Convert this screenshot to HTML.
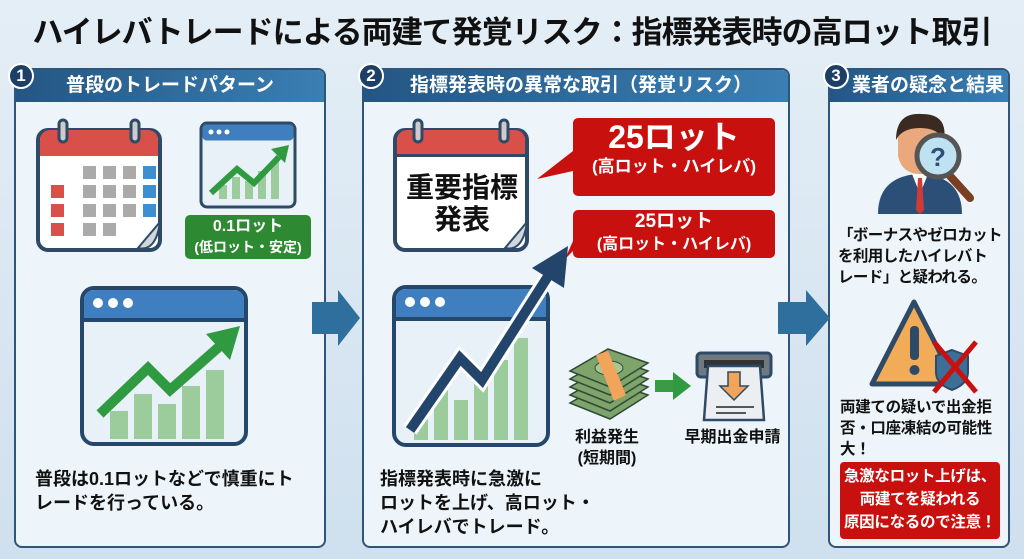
<!DOCTYPE html>
<html><head><meta charset="utf-8"><style>
*{margin:0;padding:0;box-sizing:border-box}
body{width:1024px;height:559px;overflow:hidden;position:relative;background:linear-gradient(180deg,#e4eef6,#cfe0ee);font-family:"Liberation Sans","Noto Sans CJK JP",sans-serif;font-weight:bold;color:#111}
.a{position:absolute}
.title{left:0;top:7px;width:1024px;text-align:center;font-size:31px;letter-spacing:-1px;color:#111}
.panel{border:2px solid #2e557a;border-radius:8px;background:#eef5fa;overflow:hidden}
.hd{position:absolute;left:0;top:0;right:0;height:32px;background:linear-gradient(90deg,#245683,#3a7fb3);color:#fff;font-size:19px;line-height:32px;text-align:center}
.num{width:26px;height:26px;border-radius:50%;background:#1d3f66;border:2px solid #fff;color:#fff;font-size:17px;text-align:center;line-height:22px}
.t{font-size:17px;line-height:22px}
.red{background:#c8100f;color:#fff;text-align:center;border-radius:4px}
</style></head><body>
<div class="a title">ハイレバトレードによる両建て発覚リスク：指標発表時の高ロット取引</div>

<div class="a panel" style="left:14px;top:68px;width:312px;height:480px"><div class="hd">普段のトレードパターン</div></div>
<div class="a panel" style="left:362px;top:68px;width:428px;height:480px"><div class="hd" style="padding-left:10px">指標発表時の異常な取引（発覚リスク）</div></div>
<div class="a panel" style="left:828px;top:68px;width:182px;height:480px"><div class="hd" style="padding-left:18px">業者の疑念と結果</div></div>
<div class="a num" style="left:8px;top:63px">1</div>
<div class="a num" style="left:358px;top:63px">2</div>
<div class="a num" style="left:823px;top:63px">3</div>

<svg class="a" style="left:310px;top:288px" width="52" height="62"><polygon points="2,14 28,14 28,2 50,30 28,58 28,46 2,46" fill="#2e6f9e"/></svg>
<svg class="a" style="left:776px;top:288px" width="56" height="62"><polygon points="2,14 30,14 30,2 54,30 30,58 30,46 2,46" fill="#2e6f9e"/></svg>

<svg class="a" style="left:35px;top:118px" width="130" height="136">
<rect x="3" y="12" width="122" height="120" rx="10" fill="#fff" stroke="#2e4a66" stroke-width="4"/>
<path d="M5,22 a10,10 0 0 1 10,-10 h98 a10,10 0 0 1 10,10 v16 h-118z" fill="#d9504a"/>
<rect x="24" y="2" width="8" height="22" rx="4" fill="#ccc" stroke="#2e4a66" stroke-width="3"/>
<rect x="96" y="2" width="8" height="22" rx="4" fill="#ccc" stroke="#2e4a66" stroke-width="3"/>
<g fill="#aaa"><rect x="48" y="48" width="13" height="13"/><rect x="68" y="48" width="13" height="13"/><rect x="88" y="48" width="13" height="13"/>
<rect x="48" y="67" width="13" height="13"/><rect x="68" y="67" width="13" height="13"/><rect x="88" y="67" width="13" height="13"/>
<rect x="48" y="86" width="13" height="13"/><rect x="68" y="86" width="13" height="13"/><rect x="88" y="86" width="13" height="13"/>
<rect x="48" y="105" width="13" height="13"/><rect x="68" y="105" width="13" height="13"/></g>
<g fill="#d9504a"><rect x="16" y="67" width="13" height="13"/><rect x="16" y="86" width="13" height="13"/><rect x="16" y="105" width="13" height="13"/></g>
<g fill="#3d8fcf"><rect x="108" y="48" width="13" height="13"/><rect x="108" y="67" width="13" height="13"/><rect x="108" y="86" width="13" height="13"/></g>
<path d="M125,104 l-22,26 q18,4 22,-26z" fill="#cfd6dc" stroke="#2e4a66" stroke-width="2"/>
</svg>
<svg class="a" style="left:199px;top:121px" width="98" height="88">
<rect x="2" y="2" width="94" height="84" rx="6" fill="#e8f1f8" stroke="#2e4a66" stroke-width="3"/>
<rect x="3.5" y="3.5" width="91" height="16" rx="4" fill="#3f7fc0"/>
<g fill="#fff"><circle cx="12" cy="11" r="2.5"/><circle cx="20" cy="11" r="2.5"/><circle cx="28" cy="11" r="2.5"/></g>
<g fill="#9ccb9c"><rect x="20" y="64" width="8" height="14"/><rect x="33" y="56" width="8" height="22"/><rect x="46" y="60" width="8" height="18"/><rect x="59" y="50" width="8" height="28"/><rect x="72" y="40" width="8" height="38"/></g>
<polyline points="12,72 38,48 55,62 80,36" fill="none" stroke="#2f9a3f" stroke-width="6"/>
<polygon points="72,28 90,24 86,42" fill="#2f9a3f"/>
</svg>
<div class="a" style="left:185px;top:215px;width:126px;height:44px;background:#2e8a32;border-radius:5px;color:#fff;text-align:center;font-size:16px;line-height:20px;padding-top:2px">0.1ロット<br><span style="font-size:14px">(低ロット・安定)</span></div>
<svg class="a" style="left:80px;top:286px" width="168" height="160">
<rect x="2" y="2" width="164" height="156" rx="12" fill="#e8f1f8" stroke="#24476b" stroke-width="4"/>
<path d="M4,14 a10,10 0 0 1 10,-10 h140 a10,10 0 0 1 10,10 v18 h-160z" fill="#3f7fc0"/>
<rect x="4" y="32" width="160" height="4" fill="#24476b"/>
<g fill="#fff"><circle cx="18" cy="17" r="5"/><circle cx="33" cy="17" r="5"/><circle cx="48" cy="17" r="5"/></g>
<g fill="#9ccb9c"><rect x="30" y="125" width="18" height="28"/><rect x="54" y="108" width="18" height="45"/><rect x="78" y="118" width="18" height="35"/><rect x="102" y="100" width="18" height="53"/><rect x="126" y="84" width="18" height="69"/></g>
<polyline points="20,128 68,82 90,104 140,60" fill="none" stroke="#2f9a3f" stroke-width="10"/>
<polygon points="126,48 160,40 150,74" fill="#2f9a3f"/>
</svg>
<div class="a t" style="left:35px;top:467px;font-size:18px;line-height:24px">普段は0.1ロットなどで慎重にト<br>レードを行っている。</div>

<svg class="a" style="left:392px;top:118px" width="140" height="136">
<rect x="3" y="12" width="132" height="120" rx="10" fill="#fff" stroke="#2e4a66" stroke-width="4"/>
<path d="M5,22 a10,10 0 0 1 10,-10 h108 a10,10 0 0 1 10,10 v16 h-128z" fill="#d9504a"/>
<rect x="4" y="36" width="130" height="3" fill="#2e4a66"/>
<rect x="22" y="2" width="8" height="22" rx="4" fill="#ccc" stroke="#2e4a66" stroke-width="3"/>
<rect x="108" y="2" width="8" height="22" rx="4" fill="#ccc" stroke="#2e4a66" stroke-width="3"/>
<path d="M135,104 l-22,26 q18,4 22,-26z" fill="#cfd6dc" stroke="#2e4a66" stroke-width="2"/>
</svg>
<div class="a" style="left:396px;top:172px;width:132px;text-align:center;font-size:28px;line-height:32px">重要指標<br>発表</div>
<svg class="a" style="left:535px;top:115px" width="245" height="150">
<path d="M38,8 a5,5 0 0 1 5,-5 h192 a5,5 0 0 1 5,5 v68 a5,5 0 0 1 -5,5 h-192 a5,5 0 0 1 -5,-5 v-20 l-36,8 36,-28z" fill="#c8100f"/>
<path d="M38,100 a5,5 0 0 1 5,-5 h192 a5,5 0 0 1 5,5 v38 a5,5 0 0 1 -5,5 h-192 a5,5 0 0 1 -5,-5 v-2 l-8,8 8,-18z" fill="#c8100f"/>
</svg>
<div class="a" style="left:573px;top:119px;width:202px;text-align:center;color:#fff;font-size:32px;line-height:36px">25ロット</div>
<div class="a" style="left:573px;top:157px;width:202px;text-align:center;color:#fff;font-size:17px;line-height:20px">(高ロット・ハイレバ)</div>
<div class="a" style="left:573px;top:211px;width:202px;text-align:center;color:#fff;font-size:19px;line-height:22px">25ロット<br><span style="font-size:16px">(高ロット・ハイレバ)</span></div>
<svg class="a" style="left:392px;top:240px" width="185" height="210">
<rect x="2" y="47" width="154" height="158" rx="12" fill="#e8f1f8" stroke="#24476b" stroke-width="4"/>
<path d="M4,59 a10,10 0 0 1 10,-10 h130 a10,10 0 0 1 10,10 v18 h-150z" fill="#3f7fc0"/>
<rect x="4" y="77" width="150" height="4" fill="#24476b"/>
<g fill="#fff"><circle cx="18" cy="62" r="5"/><circle cx="33" cy="62" r="5"/><circle cx="48" cy="62" r="5"/></g>
<g fill="#9ccb9c"><rect x="22" y="170" width="14" height="30"/><rect x="42" y="150" width="14" height="50"/><rect x="62" y="160" width="14" height="40"/><rect x="82" y="140" width="14" height="60"/><rect x="102" y="120" width="14" height="80"/><rect x="122" y="98" width="14" height="102"/></g>
<polyline points="18,190 68,118 90,140 160,30" fill="none" stroke="#fff" stroke-width="16"/>
<polyline points="18,190 68,118 90,140 160,30" fill="none" stroke="#23446b" stroke-width="10"/>
<polygon points="140,28 176,6 172,48" fill="#23446b"/>
</svg>
<svg class="a" style="left:566px;top:343px" width="84" height="80">
<g stroke="#2f4a35" stroke-width="1.5" fill="#7ea36b">
<polygon points="4,60 44,76 82,52 42,38"/><polygon points="4,52 44,68 82,44 42,30"/><polygon points="4,44 44,60 82,36 42,22"/><polygon points="4,36 44,52 82,28 42,14"/><polygon points="4,28 44,44 82,20 42,6"/></g>
<ellipse cx="43" cy="25" rx="14" ry="7" fill="#a9c693" stroke="#2f4a35"/>
<polygon points="30,12 42,8 60,52 48,58" fill="#f2a55a"/>
</svg>
<svg class="a" style="left:655px;top:372px" width="38" height="28"><rect x="0" y="8" width="20" height="12" fill="#3a9a45"/><polygon points="18,0 36,14 18,28" fill="#2f9a3f"/></svg>
<svg class="a" style="left:694px;top:350px" width="80" height="72">
<rect x="3" y="3" width="74" height="24" rx="4" fill="#6f7a80" stroke="#2e4a66" stroke-width="3"/>
<rect x="10" y="10" width="60" height="8" fill="#333"/>
<path d="M14,16 h52 l4,54 h-60z" fill="#eceff1" stroke="#2e4a66" stroke-width="2.5"/>
<polygon points="34,22 46,22 46,36 54,36 40,50 26,36 34,36" fill="#f2a55a" stroke="#2e4a66" stroke-width="1.5"/>
<rect x="22" y="56" width="38" height="2" fill="#555"/><rect x="22" y="62" width="30" height="2" fill="#555"/>
</svg>
<div class="a" style="left:567px;top:427px;width:80px;text-align:center;font-size:16px;line-height:21px">利益発生<br>(短期間)</div>
<div class="a" style="left:680px;top:427px;width:105px;text-align:center;font-size:16px;line-height:21px">早期出金申請</div>
<div class="a t" style="left:380px;top:467px;font-size:18px;line-height:24px">指標発表時に急激に<br>ロットを上げ、高ロット・<br>ハイレバでトレード。</div>

<svg class="a" style="left:868px;top:110px" width="110" height="108">
<path d="M10,104 q0,-36 38,-40 h8 q38,4 38,40z" fill="#2c4f78"/>
<polygon points="44,64 60,64 52,84" fill="#fff"/>
<polygon points="50,68 54,68 56,100 52,104 48,100" fill="#d23a35"/>
<path d="M30,26 q22,-26 44,0 v20 q-4,18 -22,18 q-18,0 -22,-18z" fill="#e9a97c"/>
<path d="M28,30 q0,-28 26,-26 q26,0 22,26 q-6,-12 -24,-12 q-18,0 -24,12z" fill="#3a2a22"/>
<line x1="82" y1="66" x2="102" y2="88" stroke="#7a3e22" stroke-width="8" stroke-linecap="round"/>
<circle cx="70" cy="46" r="21" fill="#bfe2f3" stroke="#555" stroke-width="5"/>
<text x="70" y="56" font-size="26" text-anchor="middle" fill="#2c4f78" font-family="Liberation Sans">?</text>
</svg>
<div class="a" style="left:838px;top:225px;font-size:15.5px;line-height:21px;letter-spacing:-0.6px">「ボーナスやゼロカット<br>を利用したハイレバト<br>レード」と疑われる。</div>
<svg class="a" style="left:868px;top:298px" width="112" height="96">
<path d="M46,4 l42,82 h-84z" fill="#f2ab57" stroke="#2e4a66" stroke-width="5" stroke-linejoin="round"/>
<rect x="42" y="28" width="9" height="34" rx="4" fill="#2e4a66"/><circle cx="46.5" cy="72" r="5" fill="#2e4a66"/>
<path d="M84,52 l16,6 v16 q0,12 -16,18 q-16,-6 -16,-18 v-16z" fill="#3c6f98" stroke="#2e4a66" stroke-width="2"/>
<line x1="66" y1="44" x2="108" y2="94" stroke="#c8100f" stroke-width="5"/><line x1="108" y1="44" x2="66" y2="94" stroke="#c8100f" stroke-width="5"/>
</svg>
<div class="a" style="left:840px;top:397px;font-size:15.5px;line-height:21px;letter-spacing:-0.3px">両建ての疑いで出金拒<br>否・口座凍結の可能性<br>大！</div>
<div class="a red" style="left:840px;top:462px;width:160px;height:77px;font-size:15.5px;line-height:23px;padding-top:3px;letter-spacing:-0.3px">急激なロット上げは、<br>両建てを疑われる<br>原因になるので注意！</div>
</body></html>
